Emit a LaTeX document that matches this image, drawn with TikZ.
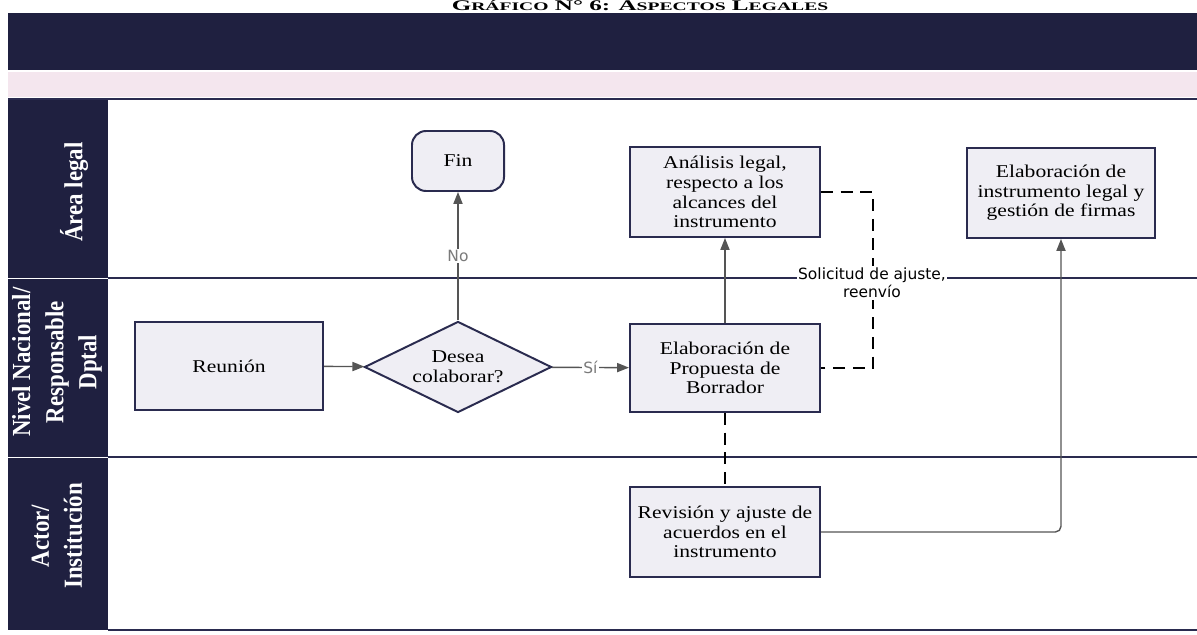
\documentclass[tikz,border=0pt]{standalone}
\usepackage{fontspec}
\setmainfont[FakeStretch=1.2]{Liberation Serif}
\newfontfamily\carrilfont[FakeStretch=0.88]{Liberation Serif}
\newfontfamily\titulofont[FakeStretch=1.7]{Liberation Serif}
\newfontfamily\etiquetafont{DejaVu Sans}
\usetikzlibrary{shapes.geometric,arrows.meta}

\definecolor{azuloscuro}{HTML}{1F2040}
\definecolor{rosa}{HTML}{F4E6EE}
\definecolor{bordecaja}{HTML}{2A2B4F}
\definecolor{rellenocaja}{HTML}{EFEEF4}
\definecolor{gris}{HTML}{555555}
\definecolor{grisclaro}{HTML}{7A7A7A}

\newcommand{\versalita}[1]{{\fontsize{8.2}{8.2}\selectfont #1}}

\begin{document}
\begin{tikzpicture}[x=0.025cm, y=-0.025cm,
    caja/.style={draw=bordecaja, fill=rellenocaja, line width=1.4pt, align=center,
        inner sep=2pt, font=\fontsize{12.8}{14}\selectfont},
    fin/.style={caja, rounded corners=10pt, minimum width=2.3cm, minimum height=1.5cm},
    decision/.style={caja, diamond, aspect=2.05, inner sep=0pt,
        minimum width=4.675cm, minimum height=2.275cm},
    carril/.style={text=white, align=center, rotate=90,
        font=\carrilfont\bfseries\fontsize{18.5}{23.5}\selectfont},
    linea/.style={draw=bordecaja, line width=1.4pt},
    flecha/.style={draw=gris, line width=1pt, -{Triangle[length=8.5pt,width=6.5pt]}},
    ajuste/.style={draw=black, line width=1.5pt, dash pattern=on 8.5pt off 5.5pt},
    texto/.style={font=\etiquetafont\fontsize{11}{13}\selectfont, inner sep=1pt, fill=white}]

    \useasboundingbox (0,0) rectangle (1197,635);
    \fill[white] (0,0) rectangle (1197,635);

    % Title
    \node[anchor=base, inner sep=0pt, font=\titulofont\bfseries\fontsize{10.5}{10.5}\selectfont]
        (titulo) at (640,11)
        {G\versalita{RÁFICO} N° 6: A\versalita{SPECTOS} L\versalita{EGALES}};

    % Bands
    \fill[azuloscuro] (8,13) rectangle (1197,70);
    \fill[rosa] (8,72) rectangle (1197,97);
    \fill[azuloscuro] (8,99) rectangle (108,630);
    \foreach \y in {278,457}
        \draw[white, line width=0.6pt] (8,\y) -- (108,\y);

    % Lanes
    \draw[linea] (8,99) -- (1197,99);
    \foreach \y in {278,457,630}
        \draw[linea] (108,\y) -- (1197,\y);

    % Lane labels
    \node[carril] (legal) at (74,192) {Área legal};
    \node[carril] (nacional) at (57,362) {Nivel Nacional/\\Responsable\\Dptal};
    \node[carril] (actor) at (57,536) {Actor/\\Institución};

    % Steps
    \node[fin] (fin) at (458,161) {Fin};
    \node[caja, minimum width=4.75cm, minimum height=2.25cm] (analisis) at (725,192)
        {Análisis legal,\\respecto a los\\alcances del\\instrumento};
    \node[caja, minimum width=4.7cm, minimum height=2.25cm] (instrumento) at (1061,193)
        {Elaboración de\\instrumento legal y\\gestión de firmas};
    \node[caja, minimum width=4.7cm, minimum height=2.2cm] (reunion) at (229,366) {Reunión};
    \node[decision] (desea) at (458,367) {Desea\\colaborar?};
    \node[caja, minimum width=4.75cm, minimum height=2.2cm] (propuesta) at (725,368)
        {Elaboración de\\Propuesta de\\Borrador};
    \node[caja, minimum width=4.75cm, minimum height=2.25cm] (revision) at (725,532)
        {Revisión y ajuste de\\acuerdos en el\\instrumento};
    \coordinate (giro) at (873,280);

    % Connectors
    \draw[flecha] (reunion) -- (desea);
    \draw[flecha] (desea) -- node[texto, text=grisclaro] {Sí} (propuesta);
    \draw[flecha] (desea) -- node[texto, text=grisclaro] {No} (fin);
    \draw[flecha] (propuesta) -- (analisis);
    \draw[flecha, rounded corners=4pt] (revision) -| (instrumento);
    \draw[ajuste] (analisis) -- (analisis -| giro) |- (propuesta);
    \draw[ajuste] (propuesta) -- (revision);

    % Dashed label
    \node[texto, align=center] (solicitud) at (872,283) {Solicitud de ajuste,\\reenvío};
\end{tikzpicture}
\end{document}
